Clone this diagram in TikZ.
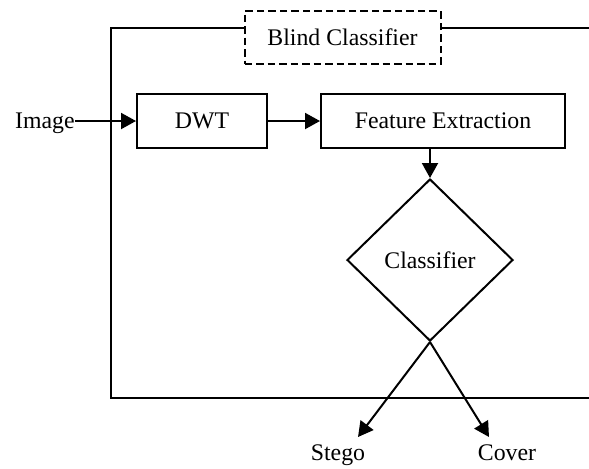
\documentclass[tikz,border=0pt]{standalone}
\usepackage{fontspec}
\setmainfont{Liberation Serif}
\usetikzlibrary{arrows.meta,shapes.geometric}
\begin{document}
\begin{tikzpicture}[x=0.5pt,y=-0.5pt,
  every node/.style={font=\fontsize{11.9pt}{14pt}\selectfont},
  line/.style={line width=1pt},
  arr/.style={line width=1pt,-{Triangle[length=7.5pt,width=8pt]}},
  block/.style={draw,line width=1pt,fill=white,inner sep=0pt},
]
\useasboundingbox (0,0) rectangle (589,468);
\coordinate (fr1) at (589,28);
\coordinate (fr2) at (111,28);
\coordinate (fr3) at (111,398);
\coordinate (fr4) at (589,398);
\draw[line] (fr1) -- (fr2) -- (fr3) -- (fr4);
\node[block,dash pattern=on 3.75pt off 2pt,minimum width=98pt,minimum height=26.5pt] (blind) at (342.5,37.5) {Blind Classifier};
\node[block,minimum width=65pt,minimum height=27pt] (dwt) at (202,121) {DWT};
\node[block,minimum width=122pt,minimum height=27pt] (fe) at (443,121) {Feature Extraction};
\node[inner sep=0pt,anchor=base east] (img) at (75,128) {Image};
\node[draw,diamond,line width=1pt,inner sep=0pt,minimum width=83pt,minimum height=81pt] (cls) at (430,260) {Classifier};
\node[inner sep=0pt,anchor=base] (stego) at (338,460) {Stego};
\node[inner sep=0pt,anchor=base] (cover) at (507,460) {Cover};
\coordinate (stip) at (358,437);
\coordinate (ctip) at (489,437);
\draw[arr] (img.east |- dwt.west) -- (dwt.west);
\draw[arr] (dwt.east) -- (fe.west);
\draw[arr] (fe.south -| cls.north) -- (cls.north);
\draw[arr] (cls.south) -- (stip);
\draw[arr] (cls.south) -- (ctip);
\end{tikzpicture}
\end{document}
